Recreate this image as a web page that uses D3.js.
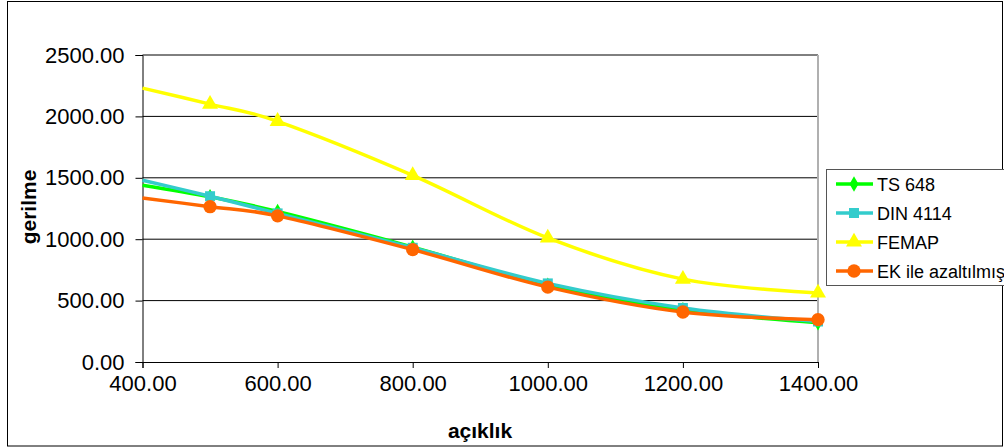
<!DOCTYPE html>
<html><head><meta charset="utf-8">
<script src="https://cdn.jsdelivr.net/npm/d3@7"></script>
<style>html,body{margin:0;padding:0;background:#fff;}svg{display:block;}</style>
</head><body>
<script>
const xValues = [400, 500, 600, 800, 1000, 1200, 1400];
const seriesNames = ["TS 648", "DIN 4114", "FEMAP", "EK ile azaltılmış"];
const ts648 = [1440, 1345, 1225, 935, 625, 425, 320];
const din4114 = [1480, 1350, 1210, 930, 640, 440, 330];
const femap = [2230, 2100, 1960, 1520, 1010, 675, 562];
const ekIle = [1335, 1265, 1190, 915, 610, 407, 345];
const yTicks = [0, 500, 1000, 1500, 2000, 2500];
const xTicks = [400, 600, 800, 1000, 1200, 1400];
const xTitle = "açıklık";
const yTitle = "gerilme";

const W = 1004, H = 448;
const svg = d3.select("body").append("svg").attr("width", W).attr("height", H);
const font = "'Liberation Sans', Arial, sans-serif";

// outer border
svg.append("rect").attr("x", 7.5).attr("y", 1.5).attr("width", 995).attr("height", 444.5)
  .attr("fill", "none").attr("stroke", "#000").attr("stroke-width", 1);

const x = d3.scaleLinear().domain([400, 1400]).range([142.5, 818]);
const y = d3.scaleLinear().domain([0, 2500]).range([362, 55]);

// gridlines
svg.append("g").selectAll("line").data(yTicks.filter(d => d > 0)).join("line")
  .attr("x1", x(400)).attr("x2", x(1400))
  .attr("y1", d => y(d)).attr("y2", d => y(d))
  .attr("stroke", "#000").attr("stroke-width", 1);

// plot right border
svg.append("line").attr("x1", x(1400)).attr("x2", x(1400)).attr("y1", y(2500)).attr("y2", y(0))
  .attr("stroke", "#b0b0b0").attr("stroke-width", 2);

// y axis
const yAxis = d3.axisLeft(y).tickValues(yTicks).tickFormat(d => d.toFixed(2)).tickSize(7).tickPadding(11);
const gy = svg.append("g").attr("transform", `translate(${x(400)},0)`).call(yAxis);
gy.select(".domain").attr("stroke", "#000");
gy.selectAll(".tick line").attr("stroke", "#000");
gy.selectAll("text").attr("font-family", font).attr("font-size", 22).attr("fill", "#000");

// x axis
const xAxis = d3.axisBottom(x).tickValues(xTicks).tickFormat(d => d.toFixed(2)).tickSize(6).tickPadding(7);
const gx = svg.append("g").attr("transform", `translate(0,${y(0)})`).call(xAxis);
gx.select(".domain").attr("stroke", "#000");
gx.selectAll(".tick line").attr("stroke", "#000");
gx.selectAll("text").attr("font-family", font).attr("font-size", 22).attr("fill", "#000");

// titles
svg.append("text").attr("x", 480).attr("y", 438).attr("text-anchor", "middle")
  .attr("font-family", font).attr("font-size", 21).attr("font-weight", "bold").text(xTitle);
svg.append("text").attr("transform", "translate(36,207) rotate(-90)").attr("text-anchor", "middle")
  .attr("font-family", font).attr("font-size", 21).attr("font-weight", "bold").text(yTitle);

const series = [
  {name: seriesNames[0], values: ts648, color: "#00ff00", symbol: d3.symbolDiamond, size: 70},
  {name: seriesNames[1], values: din4114, color: "#33cccc", symbol: d3.symbolSquare, size: 100},
  {name: seriesNames[2], values: femap, color: "#ffff00", symbol: d3.symbolTriangle, size: 110},
  {name: seriesNames[3], values: ekIle, color: "#ff6600", symbol: d3.symbolCircle, size: 140}
];

const line = d3.line().x((d, i) => x(xValues[i])).y(d => y(d)).curve(d3.curveCatmullRom.alpha(0));

series.forEach(s => {
  const g = svg.append("g");
  g.append("path").attr("d", line(s.values)).attr("fill", "none")
    .attr("stroke", s.color).attr("stroke-width", 3.5).attr("stroke-linejoin", "round");
  g.selectAll("path.m").data(s.values.slice(1)).join("path").attr("class", "m")
    .attr("transform", (d, i) => `translate(${x(xValues[i + 1])},${y(d)})`)
    .attr("d", d3.symbol(s.symbol, s.size)).attr("fill", s.color);
});

// legend
const lg = svg.append("g");
lg.append("rect").attr("x", 826.5).attr("y", 169.5).attr("width", 190).attr("height", 116)
  .attr("fill", "#fff").attr("stroke", "#555").attr("stroke-width", 1);
series.forEach((s, i) => {
  const cy = 184 + i * 29;
  lg.append("line").attr("x1", 836).attr("x2", 873).attr("y1", cy).attr("y2", cy)
    .attr("stroke", s.color).attr("stroke-width", 3.5);
  lg.append("path").attr("transform", `translate(854,${cy})`).attr("d", d3.symbol(s.symbol, s.size)).attr("fill", s.color);
  lg.append("text").attr("x", 877).attr("y", cy + 7).attr("font-family", font).attr("font-size", 18)
    .attr("fill", "#000").text(s.name);
});
</script>
</body></html>
